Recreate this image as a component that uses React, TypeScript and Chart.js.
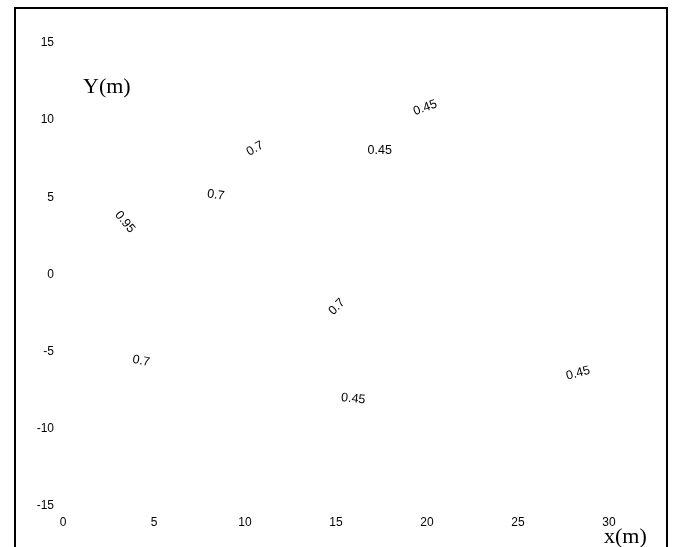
import React, { useEffect, useRef } from "react";
import { Chart, registerables } from "chart.js";

Chart.register(...registerables);

const xTicks = [0, 5, 10, 15, 20, 25, 30];
const yTicks = [-15, -10, -5, 0, 5, 10, 15];
const labelText = ["0.45", "0.45", "0.7", "0.7", "0.95", "0.7", "0.7", "0.45", "0.45"];
const labelX = [19.9, 17.4, 10.55, 8.4, 3.4, 15.05, 4.3, 15.95, 28.3];
const labelY = [10.8, 8.05, 8.15, 5.15, 3.4, -2.1, -5.6, -8.05, -6.4];
const labelAngle = [-20, 0, -30, 8, 50, -45, 10, 6, -15];

const framePlugin = {
  id: "frame",
  afterDraw(chart: any) {
    const ctx = chart.ctx;
    ctx.save();
    ctx.strokeStyle = "#000";
    ctx.lineWidth = 2;
    ctx.strokeRect(15, 8, 652, 560);
    // contour labels
    const meta = chart.getDatasetMeta(0);
    ctx.fillStyle = "#000";
    ctx.font = "12.5px 'Liberation Sans', Arial, sans-serif";
    ctx.textAlign = "center";
    ctx.textBaseline = "middle";
    meta.data.forEach((pt: any, i: number) => {
      ctx.save();
      ctx.translate(pt.x, pt.y);
      ctx.rotate((labelAngle[i] * Math.PI) / 180);
      ctx.fillText(labelText[i], 0, 0);
      ctx.restore();
    });
    // axis titles
    ctx.font = "22px 'Liberation Serif', 'Times New Roman', serif";
    ctx.textAlign = "left";
    ctx.textBaseline = "middle";
    ctx.fillText("Y(m)", 83, 87);
    ctx.fillText("x(m)", 604, 537);
    ctx.restore();
  },
};

export default function App() {
  const ref = useRef<HTMLCanvasElement>(null);
  useEffect(() => {
    if (!ref.current) return;
    const chart = new Chart(ref.current, {
      type: "scatter",
      data: {
        datasets: [
          {
            data: labelX.map((x, i) => ({ x, y: labelY[i] })),
            pointRadius: 0,
            showLine: false,
          },
        ],
      },
      options: {
        animation: false,
        responsive: false,
        events: [],
        layout: { padding: { left: 0, right: 67, top: 43, bottom: 0 } },
        plugins: { legend: { display: false }, tooltip: { enabled: false } },
        scales: {
          x: {
            type: "linear",
            min: 0,
            max: 30,
            afterBuildTicks: (scale: any) => {
              scale.ticks = xTicks.map((v) => ({ value: v }));
            },
            afterFit: (scale: any) => {
              scale.height = 41;
            },
            grid: { display: false, drawTicks: false },
            border: { display: false },
            ticks: {
              color: "#000",
              padding: 9,
              maxRotation: 0,
              font: { family: "'Liberation Sans', Arial, sans-serif", size: 12 },
            },
          },
          y: {
            type: "linear",
            min: -15,
            max: 15,
            afterBuildTicks: (scale: any) => {
              scale.ticks = yTicks.map((v) => ({ value: v }));
            },
            afterFit: (scale: any) => {
              scale.width = 63;
            },
            grid: { display: false, drawTicks: false },
            border: { display: false },
            ticks: {
              color: "#000",
              padding: 9,
              font: { family: "'Liberation Sans', Arial, sans-serif", size: 12 },
            },
          },
        },
      },
      plugins: [framePlugin],
    });
    return () => chart.destroy();
  }, []);
  return (
    <div style={{ position: "absolute", left: 0, top: 0, width: 676, height: 547, background: "#fff" }}>
      <canvas ref={ref} width={676} height={547} style={{ display: "block" }} />
    </div>
  );
}
